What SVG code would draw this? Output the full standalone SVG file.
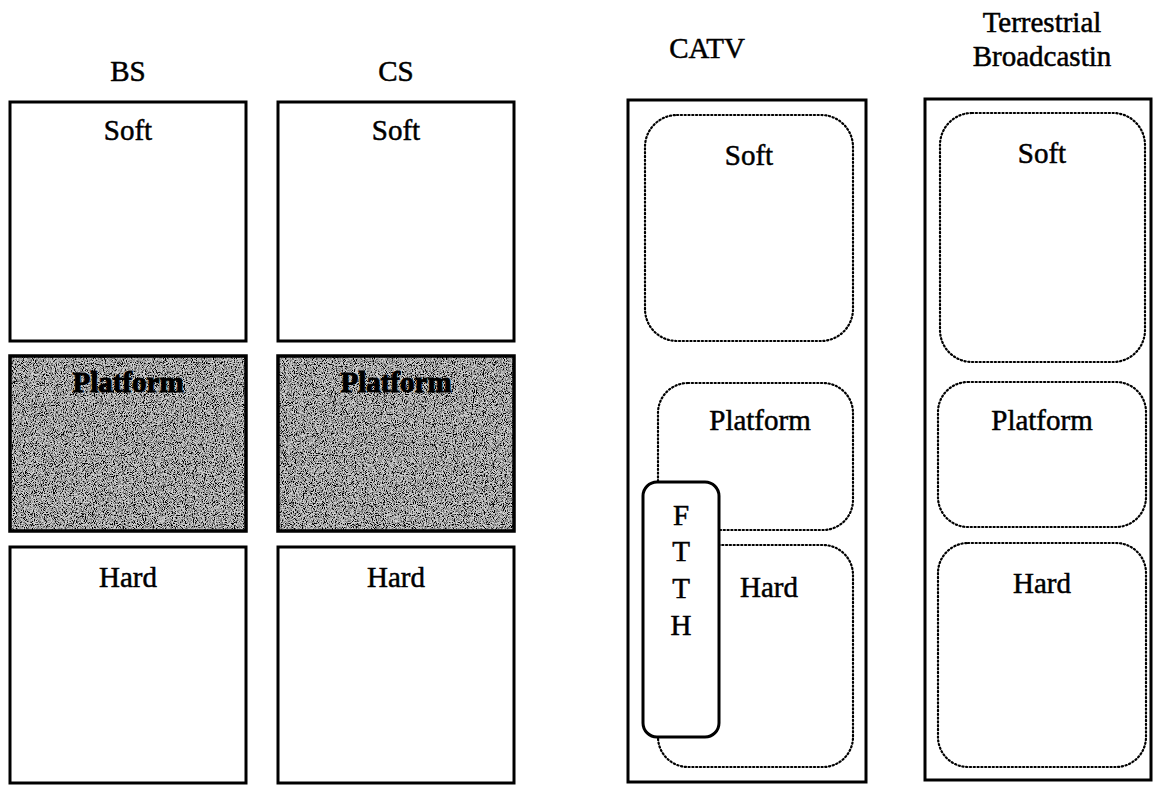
<svg xmlns="http://www.w3.org/2000/svg" width="1155" height="785" viewBox="0 0 1155 785">
<style>
  .t{font-family:"Liberation Serif","Times New Roman",serif;font-size:29px;fill:#000;stroke:#000;stroke-width:0.5;text-anchor:middle}
  .b{font-weight:bold;stroke-width:1}
  .box{fill:#fff;stroke:#000;stroke-width:3}
  .dot{fill:none;stroke:#000;stroke-width:2.2;stroke-dasharray:1.2 2.6;stroke-linecap:round}
  .plat{fill:#d4d4d4}
  .platb{fill:none;stroke:#000;stroke-width:3.5}
</style>
<defs>
  <filter id="noise" x="0" y="0" width="1" height="1">
    <feTurbulence type="fractalNoise" baseFrequency="1.1" numOctaves="1" seed="3" result="n"/>
    <feColorMatrix in="n" type="matrix" values="0 0 0 0 0  0 0 0 0 0  0 0 0 0 0  -4 0 0 0 2.45" result="a"/>
    <feComposite in="a" in2="SourceGraphic" operator="in" result="dk"/>
    <feMerge><feMergeNode in="SourceGraphic"/><feMergeNode in="dk"/></feMerge>
  </filter>
</defs>
<rect width="1155" height="785" fill="#fff"/>

<g id="titles">
  <text class="t" x="128" y="81">BS</text>
  <text class="t" x="396" y="81">CS</text>
  <text class="t" x="707" y="58">CATV</text>
  <text class="t" x="1042" y="32">Terrestrial</text>
  <text class="t" x="1042" y="66">Broadcastin</text>
</g>

<g id="bs">
  <rect class="box" x="10" y="102" width="236" height="239"/>
  <text class="t" x="128" y="140">Soft</text>
  <rect class="plat" x="10" y="356" width="236" height="175" filter="url(#noise)"/>
  <rect class="platb" x="10" y="356" width="236" height="175"/>
  <text class="t b" x="128" y="392">Platform</text>
  <rect class="box" x="10" y="547" width="236" height="236"/>
  <text class="t" x="128" y="587">Hard</text>
</g>

<g id="cs">
  <rect class="box" x="278" y="102" width="236" height="239"/>
  <text class="t" x="396" y="140">Soft</text>
  <rect class="plat" x="278" y="356" width="236" height="175" filter="url(#noise)"/>
  <rect class="platb" x="278" y="356" width="236" height="175"/>
  <text class="t b" x="396" y="392">Platform</text>
  <rect class="box" x="278" y="547" width="236" height="236"/>
  <text class="t" x="396" y="587">Hard</text>
</g>

<g id="catv">
  <rect class="box" x="628" y="100" width="238" height="682"/>
  <rect class="dot" x="645" y="115" width="208" height="226" rx="32"/>
  <text class="t" x="749" y="165">Soft</text>
  <rect class="dot" x="658" y="383" width="195" height="147" rx="30"/>
  <text class="t" x="760" y="430">Platform</text>
  <rect class="dot" x="658" y="545" width="195" height="222" rx="30"/>
  <text class="t" x="769" y="597">Hard</text>
</g>

<g id="ftth">
  <rect x="643" y="482" width="76" height="255" rx="14" fill="#fff" stroke="#000" stroke-width="3"/>
  <text class="t" x="681" y="525">F</text>
  <text class="t" x="681" y="561">T</text>
  <text class="t" x="681" y="598">T</text>
  <text class="t" x="681" y="635">H</text>
</g>

<g id="terrestrial">
  <rect class="box" x="925" y="99" width="226" height="681"/>
  <rect class="dot" x="940" y="113" width="205" height="249" rx="32"/>
  <text class="t" x="1042" y="163">Soft</text>
  <rect class="dot" x="938" y="382" width="208" height="145" rx="30"/>
  <text class="t" x="1042" y="430">Platform</text>
  <rect class="dot" x="938" y="543" width="208" height="224" rx="30"/>
  <text class="t" x="1042" y="593">Hard</text>
</g>

<g id="connectors"></g>
</svg>
